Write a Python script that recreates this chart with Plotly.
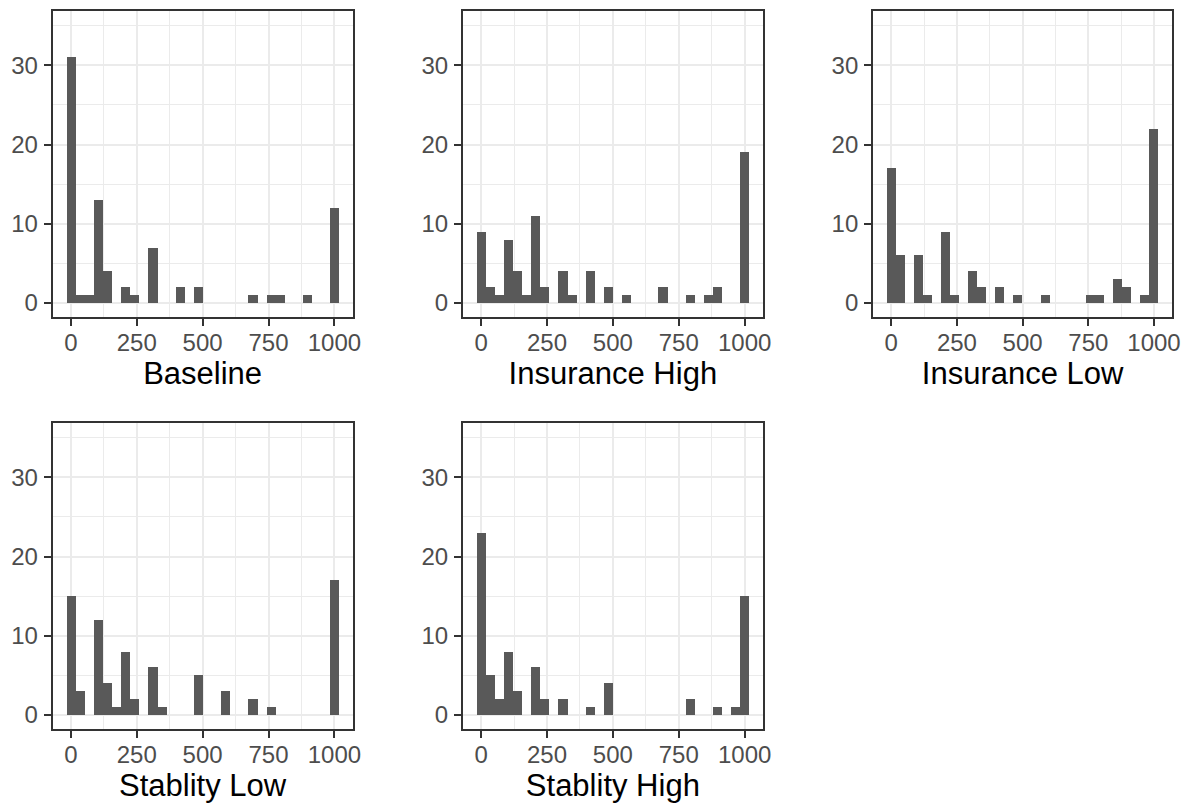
import plotly.graph_objects as go

# Histogram counts per bin (30 bins spanning 0..1000, bin width = 1000/29)
n_bins = 30
bin_width = 1000 / 29
bin_centers = [k * bin_width for k in range(n_bins)]

panel_titles = ["Baseline", "Insurance High", "Insurance Low", "Stablity Low", "Stablity High"]

baseline = [31, 1, 1, 13, 4, 0, 2, 1, 0, 7, 0, 0, 2, 0, 2, 0, 0, 0, 0, 0, 1, 0, 1, 1, 0, 0, 1, 0, 0, 12]
insurance_high = [9, 2, 1, 8, 4, 1, 11, 2, 0, 4, 1, 0, 4, 0, 2, 0, 1, 0, 0, 0, 2, 0, 0, 1, 0, 1, 2, 0, 0, 19]
insurance_low = [17, 6, 0, 6, 1, 0, 9, 1, 0, 4, 2, 0, 2, 0, 1, 0, 0, 1, 0, 0, 0, 0, 1, 1, 0, 3, 2, 0, 1, 22]
stability_low = [15, 3, 0, 12, 4, 1, 8, 2, 0, 6, 1, 0, 0, 0, 5, 0, 0, 3, 0, 0, 2, 0, 1, 0, 0, 0, 0, 0, 0, 17]
stability_high = [23, 5, 2, 8, 3, 0, 6, 2, 0, 2, 0, 0, 1, 0, 4, 0, 0, 0, 0, 0, 0, 0, 0, 2, 0, 0, 1, 0, 1, 15]

series = [baseline, insurance_high, insurance_low, stability_low, stability_high]

x_ticks = [0, 250, 500, 750, 1000]
y_ticks = [0, 10, 20, 30]

W, H = 1195, 805
# panel pixel boxes (left, right, top, bottom)
boxes = [
    (53, 355, 11, 317),
    (466, 768, 11, 317),
    (879, 1180, 11, 317),
    (53, 355, 423, 729),
    (466, 768, 423, 729),
]

fig = go.Figure()
layout = {}
grid_major = "#EBEBEB"
font_fam = "Liberation Sans, Arial"
for i, (vals, title, box) in enumerate(zip(series, panel_titles, boxes)):
    n = i + 1
    xa = "x" if n == 1 else f"x{n}"
    ya = "y" if n == 1 else f"y{n}"
    fig.add_trace(go.Bar(
        x=bin_centers, y=vals, width=[bin_width] * n_bins,
        marker=dict(color="#595959", line=dict(width=0)),
        xaxis=xa, yaxis=ya, showlegend=False, hoverinfo="x+y",
    ))
    l, r, t, b = box
    xkey = "xaxis" if n == 1 else f"xaxis{n}"
    ykey = "yaxis" if n == 1 else f"yaxis{n}"
    layout[xkey] = dict(
        domain=[l / W, r / W], anchor=ya, range=[-68.97, 1068.97],
        tickvals=x_ticks, ticktext=[str(v) for v in x_ticks],
        ticks="outside", ticklen=7, tickwidth=2, tickcolor="#333333",
        tickfont=dict(family=font_fam, size=24, color="#4D4D4D"),
        ticklabelstandoff=-4,
        showgrid=True, gridcolor=grid_major, gridwidth=2,
        minor=dict(tickvals=[125, 375, 625, 875], showgrid=True, gridcolor=grid_major, gridwidth=1, ticks=""),
        showline=True, mirror=True, linecolor="#333333", linewidth=2,
        zeroline=False,
        title=dict(text=title, font=dict(family=font_fam, size=31, color="black"), standoff=6),
    )
    layout[ykey] = dict(
        domain=[1 - b / H, 1 - t / H], anchor=xa, range=[-1.77, 36.85],
        tickvals=y_ticks, ticktext=[str(v) for v in y_ticks],
        ticks="outside", ticklen=7, tickwidth=2, tickcolor="#333333",
        tickfont=dict(family=font_fam, size=24, color="#4D4D4D"),
        ticklabelstandoff=1,
        showgrid=True, gridcolor=grid_major, gridwidth=2,
        minor=dict(tickvals=[5, 15, 25, 35], showgrid=True, gridcolor=grid_major, gridwidth=1, ticks=""),
        showline=True, mirror=True, linecolor="#333333", linewidth=2,
        zeroline=False,
    )

fig.update_layout(
    width=W, height=H, margin=dict(l=0, r=0, t=0, b=0),
    paper_bgcolor="white", plot_bgcolor="white",
    bargap=0, barmode="overlay",
    **layout,
)
fig.write_html("out.html")
